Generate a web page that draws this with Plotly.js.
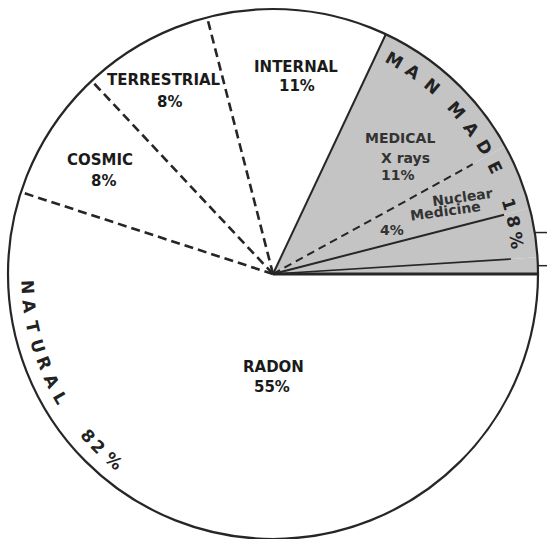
<!DOCTYPE html>
<html><head><meta charset="utf-8">
<script src="https://cdn.plot.ly/plotly-3.0.1.min.js"></script>
<style>html,body{margin:0;padding:0;background:#fff}</style>
</head><body><div id="chart" style="width:547px;height:539px"></div>
<script>
// ---- data ----
const categories = ["Other", "Consumer Products", "Nuclear Medicine", "Medical X rays", "Internal", "Terrestrial", "Cosmic", "Radon"];
const percents   = [1, 3, 4, 10, 11, 8, 8, 55];
const groups     = ["man", "man", "man", "man", "nat", "nat", "nat", "nat"];
const groupTitles = {man: "MAN MADE 18%", nat: "NATURAL 82%"};
const labelLines = {
  "Radon": ["RADON", "55%"],
  "Internal": ["INTERNAL", "11%"],
  "Terrestrial": ["TERRESTRIAL", "8%"],
  "Cosmic": ["COSMIC", "8%"],
  "Medical X rays": ["MEDICAL", "X rays", "11%"],
  "Nuclear Medicine": ["Nuclear", "Medicine", "4%"]
};

// ---- styles / layout helpers ----
const W = 547, H = 539, CX = 273, CY = 274, R = 265;
const ink = "#262626";
const fillFor = {man: "#c4c4c4", nat: "#ffffff"};
// boundary style at the start of each slice
const boundaryStyle = [
  {dash: "solid", width: 3,   len: 1.0},
  {dash: "solid", width: 1.6, len: 0.9},
  {dash: "solid", width: 2,   len: 0.9},
  {dash: "8px,5px", width: 2, len: 0.86},
  {dash: "solid", width: 2,   len: 1.0},
  {dash: "9px,5px", width: 2.6, len: 1.0},
  {dash: "9px,5px", width: 2.6, len: 1.0},
  {dash: "9px,5px", width: 2.6, len: 1.0}
];

const starts = [], mids = [], widths = [];
let cum = 0;
percents.forEach(p => { starts.push(cum * 3.6); widths.push(p * 3.6); mids.push((cum + p / 2) * 3.6); cum += p; });

const traces = [];
traces.push({
  type: "barpolar", r: percents.map(() => 1), theta: mids, width: widths, base: 0,
  marker: {color: groups.map(g => fillFor[g]), line: {width: 0}},
  hoverinfo: "skip", showlegend: false
});
starts.forEach((a, i) => {
  const s = boundaryStyle[i];
  traces.push({type: "scatterpolar", mode: "lines", r: [0, s.len], theta: [a, a],
    line: {color: ink, width: s.width, dash: s.dash}, hoverinfo: "skip", showlegend: false});
});

// leader lines for the two small slices (their labels lie outside the picture)
const shapes = [0, 1].map(i => {
  const t = mids[i] * Math.PI / 180;
  const y = CY - R * Math.sin(t), x0 = CX + R * Math.cos(t);
  return {type: "line", xref: "paper", yref: "paper", x0: x0 / W, x1: 1.02, y0: 1 - y / H, y1: 1 - y / H,
    line: {color: ink, width: 1.5}};
});

const px = x => x / W, py = y => 1 - y / H;
const ann = [];
function addText(txt, x, y, size, opts) {
  ann.push(Object.assign({text: txt, x: px(x), y: py(y), xref: "paper", yref: "paper",
    showarrow: false, xanchor: "center", yanchor: "middle",
    font: {family: "DejaVu Sans", size: size, color: "#1a1a1a", weight: "bold"}}, opts || {}));
}
// slice labels (pixel centres of each line)
const labelPos = {
  "Radon": [[273, 367], [272, 387]],
  "Internal": [[296, 67], [297, 86]],
  "Terrestrial": [[164, 80], [169, 102]],
  "Cosmic": [[100, 160], [103, 181]],
  "Medical X rays": [[400, 138], [405, 158], [398, 175]],
  "Nuclear Medicine": [[462, 197], [445, 211], [392, 230]]
};
Object.keys(labelLines).forEach(k => {
  labelLines[k].forEach((line, j) => {
    const [x, y] = labelPos[k][j];
    const man = (k === "Medical X rays" || k === "Nuclear Medicine");
    const size = man ? 14 : 15;
    const o = man ? {font: {family: "DejaVu Sans", size: size, color: "#333", weight: "bold"}} : {};
    if (k === "Nuclear Medicine" && j < 2) o.textangle = -8;
    addText(line, x, y, size, o);
  });
});
// curved group titles
const arcAngles = {
  man: [60.5, 55.2, 49.8, null, 41.8, 36.2, 31.0, 25.7, null, 16.5, 12.2, 7.8],
  nat: [183.1, 187.7, 192.4, 197.0, 201.3, 205.8, 210.2, null, 221.2, 224.7, 229.6]
};
["man", "nat"].forEach(g => {
  const chars = groupTitles[g].split("");
  const rr = 246;
  chars.forEach((c, i) => {
    const a = arcAngles[g][i];
    if (c === " " || a == null) return;
    const t = a * Math.PI / 180;
    const x = CX + rr * Math.cos(t), y = CY - rr * Math.sin(t);
    const rot = g === "man" ? 90 - a : 270 - a;
    addText(c, x, y, 17, {textangle: rot, font: {family: "DejaVu Sans", size: 17, color: "#222", weight: "bold"}});
  });
});

const layout = {
  width: W, height: H, margin: {l: 0, r: 0, t: 0, b: 0},
  paper_bgcolor: "#ffffff", showlegend: false,
  polar: {
    domain: {x: [(CX - R) / W, (CX + R) / W], y: [(H - CY - R) / H, (H - CY + R) / H]},
    bgcolor: "rgba(0,0,0,0)", bargap: 0, hole: 0,
    angularaxis: {direction: "counterclockwise", rotation: 0, showgrid: false, showticklabels: false,
      ticks: "", showline: true, linecolor: ink, linewidth: 2.2},
    radialaxis: {visible: false, range: [0, 1]}
  },
  shapes: shapes,
  annotations: ann
};
Plotly.newPlot("chart", traces, layout, {displayModeBar: false, staticPlot: true});
</script></body></html>
